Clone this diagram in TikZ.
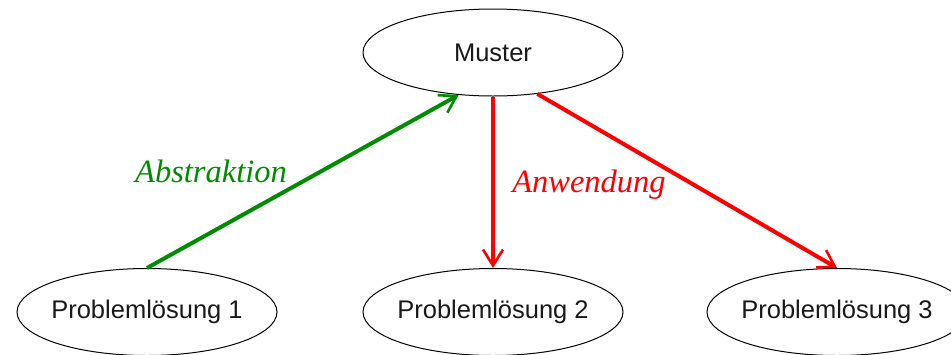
\documentclass[tikz,border=0pt]{standalone}
\usepackage{fontspec}
\setmainfont{Liberation Sans}
\newfontfamily\labelfont{Liberation Serif}
\usetikzlibrary{arrows.meta,shapes.geometric}
\definecolor{abgreen}{RGB}{0,140,0}
\definecolor{anred}{RGB}{255,0,0}
\tikzset{
  ell/.style={draw=black, line width=0.5pt, ellipse, minimum width=130pt, minimum height=43.5pt, inner sep=0pt,
    font=\fontsize{12.75}{15}\selectfont, text=black!90},
  conn/.style={line width=2pt, -{Straight Barb[length=8pt,width=10pt,line width=1.3pt]}},
  lbl/.style={anchor=base, font=\labelfont\itshape\fontsize{16.25}{19}\selectfont}
}
\begin{document}
\begin{tikzpicture}[x=0.5pt,y=-0.5pt]
\useasboundingbox (0,0) rectangle (951,354);
\node[ell] (m) at (493,52.5) {\makebox[0pt]{Muster}};
\node[ell] (p1) at (147,312) {\makebox[0pt]{Problemlösung 1}};
\node[ell] (p2) at (493,312) {\makebox[0pt]{Problemlösung 2}};
\node[ell] (p3) at (837,312) {\makebox[0pt]{Problemlösung 3}};
\draw[conn, abgreen] (p1.north) -- (m.231);
\draw[conn, anred] (m.south) -- (p2.north);
\draw[conn, anred] (m.317) -- (p3.north);
\node[lbl, text=abgreen] (la) at (211,182) {Abstraktion};
\node[lbl, text=anred] (lw) at (589,192) {Anwendung};
\end{tikzpicture}
\end{document}
